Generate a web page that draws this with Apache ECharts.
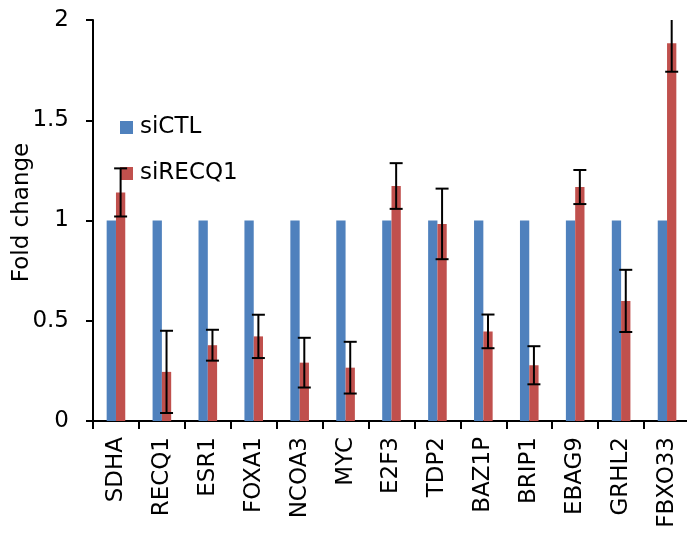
<!DOCTYPE html>
<html>
<head>
<meta charset="utf-8">
<script src="https://cdn.jsdelivr.net/npm/echarts@6/dist/echarts.min.js"></script>
<style>
  html, body { margin: 0; padding: 0; background: #fff; }
  #main { width: 687px; height: 540px; }
</style>
</head>
<body>
<div id="main"></div>
<script>
// genes on the x axis
const genes = ['SDHA', 'RECQ1', 'ESR1', 'FOXA1', 'NCOA3', 'MYC', 'E2F3', 'TDP2', 'BAZ1P', 'BRIP1', 'EBAG9', 'GRHL2', 'FBXO33'];
// control is normalised to 1
const siCTL = [1, 1, 1, 1, 1, 1, 1, 1, 1, 1, 1, 1, 1];
const siRECQ1 = [1.14, 0.245, 0.378, 0.422, 0.291, 0.266, 1.172, 0.983, 0.447, 0.278, 1.167, 0.599, 1.884];
// +/- error for siRECQ1
const siRECQ1Err = [0.12, 0.205, 0.077, 0.108, 0.124, 0.129, 0.114, 0.176, 0.084, 0.095, 0.085, 0.155, 0.142];
const yTicks = [0, 0.5, 1, 1.5, 2];

const font = 'DejaVu Sans';
const barW = 9.3;

const errData = siRECQ1.map((v, i) => [i, v - siRECQ1Err[i], v + siRECQ1Err[i]]);

const chart = echarts.init(document.getElementById('main'));

const option = {
  animation: false,
  backgroundColor: '#fff',
  textStyle: { fontFamily: font },
  grid: {
    left: 93,
    top: 20,
    width: 597,
    bottom: 119,
    outerBoundsMode: 'none',
  },
  legend: {
    data: ['siCTL', 'siRECQ1'],
    orient: 'vertical',
    left: 120,
    top: 116,
    padding: 0,
    icon: 'rect',
    itemWidth: 13,
    itemHeight: 13,
    itemGap: 23,
    textStyle: { fontFamily: font, fontSize: 23, color: '#000', padding: [0, 0, 0, 2] },
  },
  xAxis: {
    type: 'category',
    data: genes,
    axisLine: { lineStyle: { color: '#000', width: 2 } },
    axisTick: { show: true, length: 8, lineStyle: { color: '#000', width: 2 } },
    axisLabel: {
      rotate: 90,
      interval: 0,
      margin: 16,
      fontFamily: font,
      fontSize: 23,
      color: '#000',
    },
    splitLine: { show: false },
  },
  yAxis: {
    type: 'value',
    min: yTicks[0],
    max: yTicks[yTicks.length - 1],
    interval: 0.5,
    name: 'Fold change',
    nameLocation: 'middle',
    nameRotate: 90,
    nameGap: 59,
    nameMoveOverlap: false,
    nameTextStyle: { fontFamily: font, fontSize: 23, color: '#000', padding: [0, 0, 0, 16] },
    axisLine: { show: true, lineStyle: { color: '#000', width: 2 } },
    axisTick: { show: true, length: 7, lineStyle: { color: '#000', width: 2 } },
    axisLabel: {
      margin: 24,
      fontFamily: font,
      fontSize: 23,
      color: '#000',
    },
    splitLine: { show: false },
  },
  series: [
    {
      name: 'siCTL',
      type: 'bar',
      data: siCTL,
      barWidth: barW,
      barGap: '0%',
      itemStyle: { color: '#4F81BD' },
    },
    {
      name: 'siRECQ1',
      type: 'bar',
      data: siRECQ1,
      barWidth: barW,
      barGap: '0%',
      itemStyle: { color: '#C0504D' },
    },
    {
      name: 'err',
      type: 'custom',
      data: errData,
      clip: true,
      z: 10,
      renderItem(params, api) {
        const lo = api.coord([api.value(0), api.value(1)]);
        const hi = api.coord([api.value(0), api.value(2)]);
        const x = lo[0] + barW / 2;
        const cap = 6.5;
        const style = { stroke: '#000', lineWidth: 2 };
        return {
          type: 'group',
          children: [
            { type: 'line', shape: { x1: x, y1: lo[1], x2: x, y2: hi[1] }, style },
            { type: 'line', shape: { x1: x - cap, y1: lo[1], x2: x + cap, y2: lo[1] }, style },
            { type: 'line', shape: { x1: x - cap, y1: hi[1], x2: x + cap, y2: hi[1] }, style },
          ],
        };
      },
    },
  ],
};

chart.setOption(option);
</script>
</body>
</html>
